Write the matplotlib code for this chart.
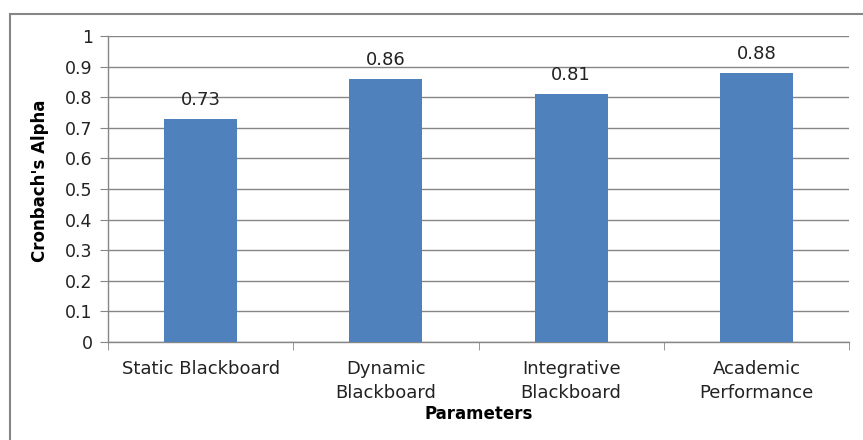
import matplotlib
matplotlib.use("Agg")
import matplotlib.pyplot as plt
from matplotlib.patches import Rectangle

categories = ["Static Blackboard", "Dynamic\nBlackboard", "Integrative\nBlackboard", "Academic\nPerformance"]
values = [0.73, 0.86, 0.81, 0.88]
yticks = [0, 0.1, 0.2, 0.3, 0.4, 0.5, 0.6, 0.7, 0.8, 0.9, 1]
ytick_labels = ["0", "0.1", "0.2", "0.3", "0.4", "0.5", "0.6", "0.7", "0.8", "0.9", "1"]

plt.rcParams['font.family'] = ['DejaVu Sans']

W, H = 863, 440
fig = plt.figure(figsize=(W/100, H/100), dpi=100)

# outer chart border
fig.patches.append(Rectangle((10/W, -0.05), 1.2, (H-14)/H + 0.05, transform=fig.transFigure,
                             fill=False, edgecolor='#868686', linewidth=1.5))

left, right, top, bottom = 108, 849, 36, 342
ax = fig.add_axes([left/W, 1 - bottom/H, (right-left)/W, (bottom-top)/H])

x = range(len(categories))
bars = ax.bar(x, values, width=0.395, color='#4F81BD', zorder=3)
for xi, v in zip(x, values):
    ax.text(xi, v + 0.033, f"{v:.2f}", ha='center', va='bottom', fontsize=13, color='#222222')

ax.set_xlim(-0.5, len(categories) - 0.5)
ax.set_ylim(0, 1)
ax.set_yticks(yticks)
ax.set_yticklabels(ytick_labels, fontsize=12.5, color='#222222')
ax.set_xticks(list(x))
ax.set_xticklabels(categories, fontsize=13, linespacing=1.4, color='#222222')
ax.tick_params(axis='x', length=0, pad=13)
ax.tick_params(axis='y', length=6, color='#868686', pad=5)
# category boundary ticks
ax.set_xticks([i - 0.5 for i in range(len(categories) + 1)], minor=True)
ax.tick_params(axis='x', which='minor', length=6, color='#868686')

ax.yaxis.grid(True, color='#868686', linewidth=1, zorder=0)
ax.set_axisbelow(True)
for s in ['top', 'right']:
    ax.spines[s].set_visible(False)
for s in ['left', 'bottom']:
    ax.spines[s].set_color('#868686')
    ax.spines[s].set_linewidth(1)

ax.set_ylabel("Cronbach's Alpha", fontsize=12, fontweight='bold')
ax.set_xlabel("Parameters", fontsize=12, fontweight='bold')
ax.yaxis.set_label_coords(-(108-40)/(right-left), 0.5 + 8/(bottom-top))
ax.xaxis.set_label_coords(0.5, -(414-342)/(bottom-top))
ax.xaxis.label.set_va('center')
ax.yaxis.label.set_va('center')

fig.savefig("out.png", dpi=100)
